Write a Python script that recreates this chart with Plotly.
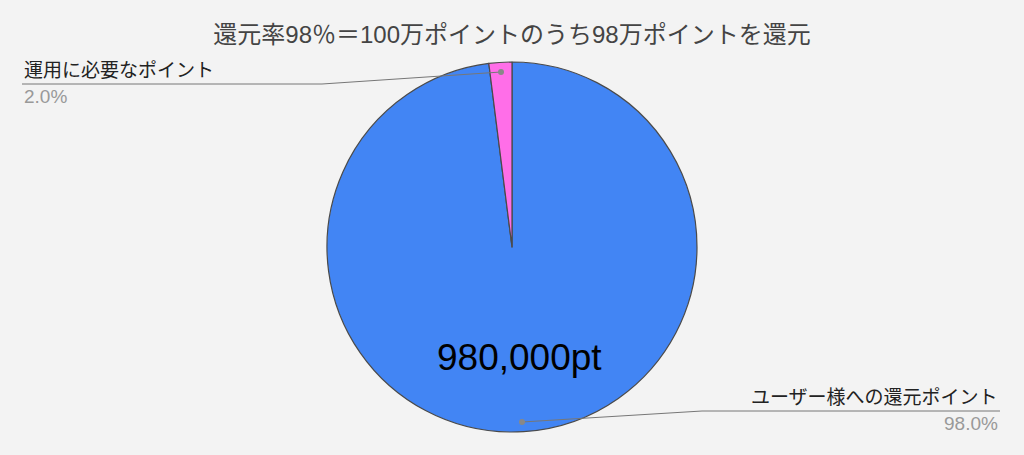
import plotly.graph_objects as go

labels = ["ユーザー様への還元ポイント", "運用に必要なポイント"]
values = [980000, 20000]
colors = ["#4285F4", "#FF6EE8"]
title = "還元率98％＝100万ポイントのうち98万ポイントを還元"

W, H = 1024, 455
total = sum(values)
pcts = [v / total * 100 for v in values]

FONT = "Liberation Sans, Arial, Noto Sans CJK JP, sans-serif"

fig = go.Figure(go.Pie(
    labels=labels, values=values, sort=False, direction="clockwise", rotation=0,
    marker=dict(colors=colors, line=dict(color="#4a4a4a", width=1.2)),
    textinfo="none", showlegend=False, hoverinfo="label+percent",
    domain=dict(x=[0, 1], y=[(H - 432) / H, (H - 62) / H]),
))

def px(x):
    return x / W

def py(y):
    return 1 - y / H

shapes = []
# leader lines: (dot x, dot y, elbow x, elbow y, end x)
leaders = [
    (522, 422, 702, 411, 1000),   # blue slice
    (501, 72, 322, 84, 22),       # pink slice
]
for dx, dy, ex, ey, endx in leaders:
    shapes.append(dict(type="line", xref="paper", yref="paper",
                       x0=px(dx), y0=py(dy), x1=px(ex), y1=py(ey),
                       line=dict(color="#777777", width=1)))
    shapes.append(dict(type="line", xref="paper", yref="paper",
                       x0=px(ex), y0=py(ey), x1=px(endx), y1=py(ey),
                       line=dict(color="#777777", width=1)))
    shapes.append(dict(type="circle", xref="paper", yref="paper",
                       x0=px(dx - 3), x1=px(dx + 3), y0=py(dy + 3), y1=py(dy - 3),
                       fillcolor="#888888", line=dict(width=0)))

LS = 19
annotations = [
    dict(text=labels[0], x=px(1000), y=py(410), xref="paper", yref="paper",
         xanchor="right", yanchor="bottom", showarrow=False,
         font=dict(family=FONT, size=LS, color="#222222")),
    dict(text=f"{pcts[0]:.1f}%", x=px(1000), y=py(411), xref="paper", yref="paper",
         xanchor="right", yanchor="top", showarrow=False,
         font=dict(family=FONT, size=LS, color="#999999")),
    dict(text=labels[1], x=px(22), y=py(83), xref="paper", yref="paper",
         xanchor="left", yanchor="bottom", showarrow=False,
         font=dict(family=FONT, size=LS, color="#222222")),
    dict(text=f"{pcts[1]:.1f}%", x=px(22), y=py(84), xref="paper", yref="paper",
         xanchor="left", yanchor="top", showarrow=False,
         font=dict(family=FONT, size=LS, color="#999999")),
    dict(text=f"{values[0]:,}pt", x=px(519), y=py(357), xref="paper", yref="paper",
         xanchor="center", yanchor="middle", showarrow=False,
         font=dict(family=FONT, size=37, color="#000000")),
]

fig.update_layout(
    width=W, height=H,
    margin=dict(l=0, r=0, t=0, b=0),
    paper_bgcolor="#F3F3F3", plot_bgcolor="#F3F3F3",
    title=dict(text=title, x=0.5, xanchor="center", y=py(35), yanchor="middle",
               font=dict(family=FONT, size=24, color="#444444")),
    shapes=shapes, annotations=annotations,
)

fig.write_html(
    "out.html",
    config={"displayModeBar": False},
    post_script="document.body.style.margin='0';document.body.style.background='#F3F3F3';document.body.style.overflow='hidden';",
)
